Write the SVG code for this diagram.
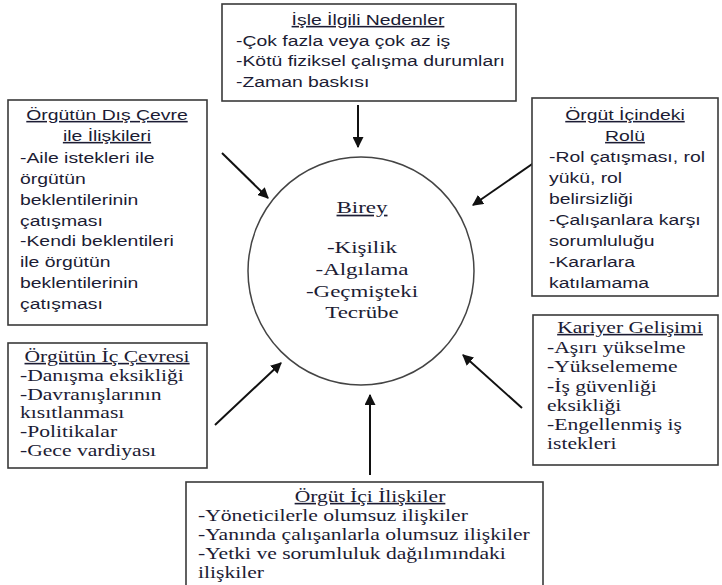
<svg xmlns="http://www.w3.org/2000/svg" width="722" height="585" viewBox="0 0 722 585">
<style>
.box{fill:#fff;stroke:#3a3a3a;stroke-width:1.6}
.sans{font-family:"Liberation Sans",Arial,sans-serif;font-size:15.5px;fill:#1c1c34}
.serif{font-family:"Liberation Serif","Times New Roman",serif;font-size:16px;fill:#1c1c34}
.big{font-size:17px}
.mid{text-anchor:middle}
.u{text-decoration:underline}
.arr{stroke:#111;stroke-width:2;fill:none;marker-end:url(#ah)}
</style>
<defs>
<marker id="ah" viewBox="0 0 10 10" refX="9" refY="5" markerWidth="5.5" markerHeight="5.5" orient="auto" markerUnits="strokeWidth">
<path d="M0,0 L10,5 L0,10 z" fill="#111"/>
</marker>
</defs>
<rect width="722" height="585" fill="#fff"/>

<g id="connectors">
<line class="arr" x1="358" y1="105" x2="358" y2="147"/>
<line class="arr" x1="222" y1="153" x2="268" y2="198"/>
<line class="arr" x1="538" y1="160" x2="473" y2="205"/>
<line class="arr" x1="215" y1="425" x2="281" y2="363"/>
<line class="arr" x1="522" y1="408" x2="463" y2="355"/>
<line class="arr" x1="370" y1="475" x2="370" y2="395"/>
</g>

<g id="birey">
<ellipse cx="361" cy="271" rx="113" ry="114" fill="none" stroke="#444" stroke-width="1.5"/>
<g transform="translate(362,0) scale(1.35,1)">
<text class="serif big mid u" x="0" y="213">Birey</text>
<text class="serif big mid" x="0" y="253">-Kişilik</text>
<text class="serif big mid" x="0" y="275">-Algılama</text>
<text class="serif big mid" x="0" y="297">-Geçmişteki</text>
<text class="serif big mid" x="0" y="318">Tecrübe</text>
</g>
</g>

<g id="isle-ilgili">
<rect class="box" x="222" y="4" width="294" height="97"/>
<g transform="translate(236,0) scale(1.25,1)">
<text class="sans mid u" x="105.6" y="25">İşle İlgili Nedenler</text>
<text class="sans" x="0" y="46">-Çok fazla veya çok az iş</text>
<text class="sans" x="0" y="66">-Kötü fiziksel çalışma durumları</text>
<text class="sans" x="0" y="87">-Zaman baskısı</text>
</g>
</g>

<g id="dis-cevre">
<rect class="box" x="8" y="100" width="199" height="225"/>
<g transform="translate(20,0) scale(1.25,1)">
<text class="sans mid u" x="69.6" y="120">Örgütün Dış Çevre</text>
<text class="sans mid u" x="69.6" y="141">ile İlişkileri</text>
<text class="sans" x="0" y="163">-Aile istekleri ile</text>
<text class="sans" x="0" y="184">örgütün</text>
<text class="sans" x="0" y="205">beklentilerinin</text>
<text class="sans" x="0" y="226">çatışması</text>
<text class="sans" x="0" y="246">-Kendi beklentileri</text>
<text class="sans" x="0" y="267">ile örgütün</text>
<text class="sans" x="0" y="288">beklentilerinin</text>
<text class="sans" x="0" y="309">çatışması</text>
</g>
</g>

<g id="orgut-icindeki-rolu">
<rect class="box" x="532" y="98" width="186" height="198"/>
<g transform="translate(549,0) scale(1.25,1)">
<text class="sans mid u" x="60.8" y="120">Örgüt İçindeki</text>
<text class="sans mid u" x="60.8" y="141">Rolü</text>
<text class="sans" x="0" y="162">-Rol çatışması, rol</text>
<text class="sans" x="0" y="183">yükü, rol</text>
<text class="sans" x="0" y="204">belirsizliği</text>
<text class="sans" x="0" y="225">-Çalışanlara karşı</text>
<text class="sans" x="0" y="246">sorumluluğu</text>
<text class="sans" x="0" y="267">-Kararlara</text>
<text class="sans" x="0" y="288">katılamama</text>
</g>
</g>

<g id="ic-cevre">
<rect class="box" x="8" y="343" width="199" height="125"/>
<g transform="translate(20,0) scale(1.35,1)">
<text class="serif mid u" x="64.5" y="362">Örgütün İç Çevresi</text>
<text class="serif" x="0" y="381">-Danışma eksikliği</text>
<text class="serif" x="0" y="400">-Davranışlarının</text>
<text class="serif" x="0" y="418">kısıtlanması</text>
<text class="serif" x="0" y="437">-Politikalar</text>
<text class="serif" x="0" y="456">-Gece vardiyası</text>
</g>
</g>

<g id="kariyer">
<rect class="box" x="533" y="315" width="185" height="150"/>
<g transform="translate(547,0) scale(1.35,1)">
<text class="serif mid u" x="61.5" y="333">Kariyer Gelişimi</text>
<text class="serif" x="0" y="353">-Aşırı yükselme</text>
<text class="serif" x="0" y="372">-Yükselememe</text>
<text class="serif" x="0" y="392">-İş güvenliği</text>
<text class="serif" x="0" y="411">eksikliği</text>
<text class="serif" x="0" y="430">-Engellenmiş iş</text>
<text class="serif" x="0" y="449">istekleri</text>
</g>
</g>

<g id="orgut-ici-iliskiler">
<rect class="box" x="186" y="482" width="357" height="110"/>
<g transform="translate(198,0) scale(1.35,1)">
<text class="serif mid u" x="127.4" y="502">Örgüt İçi İlişkiler</text>
<text class="serif" x="0" y="521">-Yöneticilerle olumsuz ilişkiler</text>
<text class="serif" x="0" y="540">-Yanında çalışanlarla olumsuz ilişkiler</text>
<text class="serif" x="0" y="559">-Yetki ve sorumluluk dağılımındaki</text>
<text class="serif" x="0" y="578">ilişkiler</text>
</g>
</g>
</svg>
